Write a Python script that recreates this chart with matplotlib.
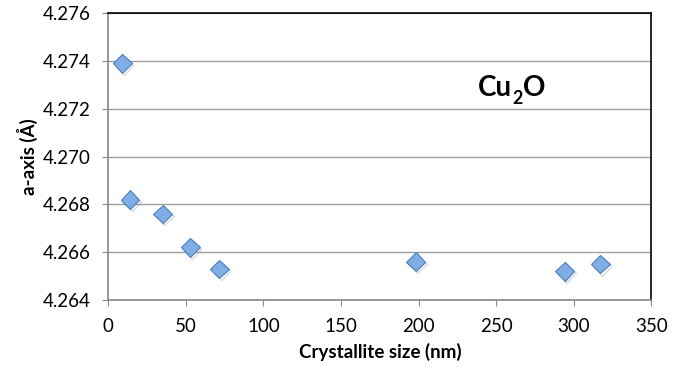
import matplotlib
matplotlib.use('Agg')
import matplotlib.pyplot as plt
import matplotlib.patheffects as pe

size_nm = [9, 14, 35, 53, 71.5, 198, 294, 317]
a_axis = [4.2739, 4.2682, 4.2676, 4.2662, 4.2653, 4.2656, 4.2652, 4.2655]

x_ticks = [0, 50, 100, 150, 200, 250, 300, 350]
y_ticks = [4.264, 4.266, 4.268, 4.270, 4.272, 4.274, 4.276]

plt.rcParams['font.family'] = ['Lato', 'DejaVu Sans']

fig = plt.figure(figsize=(6.85, 3.75), dpi=100)
ax = fig.add_axes([0.158, 0.2, 0.793, 0.765])

ax.plot(size_nm, a_axis, linestyle='none', marker='D', markersize=9.5,
        markerfacecolor='#7faee6', markeredgecolor='#4a7fc0', markeredgewidth=0.8,
        path_effects=[pe.SimpleLineShadow(offset=(1.2, -1.5), shadow_color='gray', alpha=0.35),
                      pe.Normal()], zorder=3)

ax.set_xlim(0, 350)
ax.set_ylim(4.264, 4.276)
ax.set_xticks(x_ticks)
ax.set_yticks(y_ticks)
ax.set_yticklabels([f'{v:.3f}' for v in y_ticks])
ax.tick_params(labelsize=13.5, direction='out', length=4, color='#888888')
ax.tick_params(axis='x', pad=9)
ax.tick_params(axis='y', pad=9)

ax.grid(axis='y', color='#a0a0a0', linewidth=1)
ax.set_axisbelow(True)
for side in ['left', 'bottom']:
    ax.spines[side].set_color('#888888')
    ax.spines[side].set_linewidth(1.2)
for side in ['top', 'right']:
    ax.spines[side].set_color('black')
    ax.spines[side].set_linewidth(1.2)

ax.set_xlabel('Crystallite size (nm)', fontsize=13.5, fontweight='bold', labelpad=6)
ax.set_ylabel('a-axis (Å)', fontsize=13.5, fontweight='bold', labelpad=3)

# Cu2O label, subscript built by hand
t1 = ax.text(238, 4.27252, 'Cu', fontsize=20, fontweight='bold', ha='left', va='baseline')
t2 = ax.annotate('2', xy=(1, 0), xycoords=t1, xytext=(0.3, -4.3), textcoords='offset points',
                 fontsize=13, fontweight='bold', ha='left', va='bottom')
ax.annotate('O', xy=(1, 0), xycoords=(t2, t1), xytext=(0.3, 0), textcoords='offset points',
            fontsize=20, fontweight='bold', ha='left', va='bottom')

fig.savefig('out.png', dpi=100)
